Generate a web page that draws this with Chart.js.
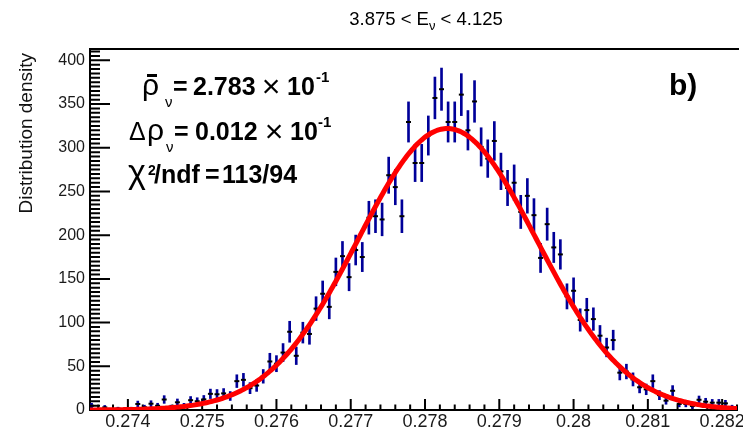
<!DOCTYPE html>
<html>
<head>
<meta charset="utf-8">
<script src="https://cdn.jsdelivr.net/npm/chart.js@4/dist/chart.umd.min.js"></script>
<style>
  html, body { margin: 0; padding: 0; background: #ffffff; }
  canvas { display: block; }
</style>
</head>
<body>
<canvas id="c" width="743" height="433"></canvas>
<script>
// Histogram binning: 225 bins on [0.27, 0.29]; the drawn bins start at bin 39.
const HIST_LOW = 0.27;
const BIN_WIDTH = 0.02 / 225;
const FIRST_BIN = 39;

// Distribution density of each bin (null = empty bin)
const density = [
  4.9, null, 3.0, null, 1.6, null, 1.6, 6.9, 3.2, 7.2,
  4.9, 12, 3.2, 8.8, 4.8, 11.2, 10, 12.2, 18.5, 18,
  19, 16, 33, 34.5, 25, 28, 38.5, 55.5, 53, 65.7,
  89.5, 62, 88.5, 87, 116, 133, 118, 158, 176, 152,
  183, 175, 220, 221.7, 218, 268.6, 255, 221.7, 329.5, 282.6,
  282.6, 314, 357, 367, 329.5, 329.5, 360.8, 320, 353, 301,
  287.6, 307.8, 273, 254, 260, 226.6, 245, 222.9, 174, 212.6,
  186, 178, 130, 136.4, 103, 114.3, 104, 85, 71.5, 80,
  42.7, 44, 35, 26, 23.6, 33, 17, 10.7, 22, 6.9,
  6.9, 4.6, 11.7, 9.5, 8.4, 8.4, 7.6, 3.2
];

// Statistical error of each bin
const densityErr = [
  2.8, null, 2.2, null, 1.6, null, 1.6, 3.3, 2.3, 3.4,
  2.8, 4.4, 2.3, 3.8, 2.8, 4.2, 4.0, 4.4, 5.4, 5.4,
  5.5, 5.1, 7.3, 7.4, 6.3, 6.7, 7.8, 9.4, 9.2, 10.3,
  12.0, 10.0, 11.9, 11.8, 13.6, 14.6, 13.7, 15.9, 16.8, 15.6,
  17.1, 16.7, 18.8, 18.8, 18.7, 20.7, 20.2, 18.8, 23.0, 21.3,
  21.3, 22.4, 23.9, 24.2, 23.0, 23.0, 24.0, 22.6, 23.8, 21.9,
  21.5, 22.2, 20.9, 20.2, 20.4, 19.0, 19.8, 18.9, 16.7, 18.4,
  17.3, 16.9, 14.4, 14.8, 12.8, 13.5, 12.9, 11.7, 10.7, 11.3,
  8.3, 8.4, 7.5, 6.4, 6.1, 7.3, 5.2, 4.1, 5.9, 3.3,
  3.3, 2.7, 4.3, 3.9, 3.7, 3.7, 3.5, 2.3
];

// Gaussian fit: mean and width as quoted in the legend, peak height of the fitted curve
const FIT_MEAN = 0.2783;
const FIT_SIGMA = 0.0012;
const FIT_PEAK = 322;

// Axis ranges and ticks
const X_MIN = 0.27349;
const X_MAX = 0.2822;
const Y_MIN = 0;
const Y_MAX = 413;
const X_MAJOR = 0.001, X_MINOR_DIV = 5;
const Y_MAJOR = 50, Y_MINOR_DIV = 10;

const TITLE_PARTS = ['3.875 < E', '\u03BD', ' < 4.125'];
const Y_TITLE = 'Distribution density';
const PANEL_TAG = 'b)';

const FONT = "'Liberation Sans', Arial, Helvetica, sans-serif";

// Build the chart tables from the arrays above
const binCenters = density.map((_, i) => HIST_LOW + (FIRST_BIN + i + 0.5) * BIN_WIDTH);
const markerPts = [];
const errorBars = [];
density.forEach((v, i) => {
  if (v === null) return;
  markerPts.push({ x: binCenters[i], y: v });
  errorBars.push({ x: binCenters[i], y: [Math.max(0, v - densityErr[i]), v + densityErr[i]] });
});

const fitPts = [];
const FIT_SAMPLES = 400;
for (let k = 0; k <= FIT_SAMPLES; k++) {
  const x = X_MIN + (X_MAX - X_MIN) * k / FIT_SAMPLES;
  const z = (x - FIT_MEAN) / FIT_SIGMA;
  fitPts.push({ x: x, y: FIT_PEAK * Math.exp(-0.5 * z * z) });
}

// Frame line on top and inward-pointing ticks on both axes
const framePlugin = {
  id: 'frameTicks',
  beforeDatasetsDraw(chart) {
    const { ctx, chartArea: a, scales: { x, y } } = chart;
    ctx.save();
    ctx.strokeStyle = '#000';
    ctx.lineWidth = 2;
    ctx.beginPath();
    ctx.moveTo(a.left - 1, a.top);
    ctx.lineTo(a.right + 2, a.top);
    ctx.stroke();

    ctx.lineWidth = 2;
    ctx.beginPath();
    const yStep = Y_MAJOR / Y_MINOR_DIV;
    for (let k = 0; k * yStep <= Y_MAX; k++) {
      const py = y.getPixelForValue(k * yStep);
      const len = (k % Y_MINOR_DIV === 0) ? 20 : 10;
      ctx.moveTo(a.left, py);
      ctx.lineTo(a.left + len, py);
    }
    const xStep = X_MAJOR / X_MINOR_DIV;
    const k0 = Math.ceil(X_MIN / xStep - 1e-6);
    const k1 = Math.floor(X_MAX / xStep + 1e-6);
    for (let k = k0; k <= k1; k++) {
      const px = x.getPixelForValue(k * xStep);
      const len = (k % X_MINOR_DIV === 0) ? 11 : 5.5;
      ctx.moveTo(px, a.bottom);
      ctx.lineTo(px, a.bottom - len);
    }
    ctx.stroke();
    ctx.restore();
  },
  afterDraw(chart) {
    const { ctx } = chart;
    ctx.save();
    ctx.fillStyle = '#000';
    ctx.textBaseline = 'alphabetic';
    ctx.textAlign = 'left';

    // Title with subscript
    const tMain = '18.5px ' + FONT, tSub = '13px ' + FONT;
    ctx.font = tMain;
    const w0 = ctx.measureText(TITLE_PARTS[0]).width;
    const w2 = ctx.measureText(TITLE_PARTS[2]).width;
    ctx.font = tSub;
    const w1 = ctx.measureText(TITLE_PARTS[1]).width;
    let tx = 426 - (w0 + w1 + w2) / 2;
    ctx.font = tMain; ctx.fillText(TITLE_PARTS[0], tx, 25); tx += w0;
    ctx.font = tSub; ctx.fillText(TITLE_PARTS[1], tx, 30); tx += w1;
    ctx.font = tMain; ctx.fillText(TITLE_PARTS[2], tx, 25);

    // Y axis title, aligned to the top of the axis
    ctx.save();
    ctx.translate(32, 53);
    ctx.rotate(-Math.PI / 2);
    ctx.textAlign = 'right';
    ctx.font = '19px ' + FONT;
    ctx.fillStyle = '#111';
    ctx.fillText(Y_TITLE, 0, 0);
    ctx.restore();

    // Fit summary: [text, font, x, baseline, align]
    const R = (s) => s + 'px ' + FONT;
    const B = (s) => 'bold ' + s + 'px ' + FONT;
    const rows = [
      [['\u03C1', R(30), 142, 95], ['\u03BD', R(15), 165, 107], ['=', B(25), 173, 95],
       ['2.783', B(25), 193, 95], ['\u00D7', R(32), 271, 97, 'center'], ['10', B(25), 287, 95], ['-1', B(15), 316, 82]],
      [['\u0394', R(25), 129, 140], ['\u03C1', R(30), 147, 140], ['\u03BD', R(15), 166, 152], ['=', B(25), 174, 140],
       ['0.012', B(25), 195, 140], ['\u00D7', R(32), 274, 142, 'center'], ['10', B(25), 290, 140], ['-1', B(15), 318, 127]],
      [['\u03C7', R(34), 128, 183], ['2', B(14), 148, 175], ['/ndf', B(25), 154, 183], ['=', B(25), 205, 183],
       ['113/94', B(25), 222, 183]]
    ];
    rows.forEach(row => row.forEach(([t, f, x, yb, al]) => {
      ctx.font = f;
      ctx.textAlign = al || 'left';
      ctx.fillText(t, x, yb);
    }));
    ctx.textAlign = 'left';
    // bar over the mean symbol
    ctx.fillRect(147, 74, 10, 3);

    ctx.font = B(30);
    ctx.fillText(PANEL_TAG, 669, 95);
    ctx.restore();
  }
};

new Chart(document.getElementById('c'), {
  type: 'bar',
  data: {
    datasets: [
      {
        type: 'line',
        data: fitPts,
        borderColor: '#ff0000',
        borderWidth: 5,
        pointRadius: 0,
        tension: 0,
        fill: false,
        order: 0
      },
      {
        type: 'scatter',
        data: markerPts,
        pointStyle: 'line',
        pointRadius: 2.5,
        pointBorderWidth: 2,
        pointBorderColor: '#000000',
        pointBackgroundColor: '#000000',
        order: 1
      },
      {
        type: 'bar',
        data: errorBars,
        backgroundColor: '#000099',
        borderWidth: 0,
        barThickness: 2,
        grouped: false,
        order: 2
      }
    ]
  },
  options: {
    responsive: false,
    animation: false,
    devicePixelRatio: 1,
    layout: { padding: { top: 49, right: 0, bottom: 0, left: 0 } },
    plugins: {
      legend: { display: false },
      tooltip: { enabled: false },
      title: { display: false }
    },
    events: [],
    scales: {
      x: {
        type: 'linear',
        min: X_MIN,
        max: X_MAX,
        offset: false,
        grid: { display: false, drawTicks: false },
        border: { display: true, color: '#000', width: 2 },
        ticks: {
          stepSize: X_MAJOR,
          includeBounds: false,
          autoSkip: false,
          maxRotation: 0,
          padding: 1,
          color: '#1a1a1a',
          font: { family: FONT, size: 18 },
          callback: (v) => String(parseFloat(Number(v).toFixed(3)))
        },
        afterFit: (s) => { s.height = 23; s.paddingLeft = 0; s.paddingRight = 0; }
      },
      y: {
        type: 'linear',
        min: Y_MIN,
        max: Y_MAX,
        grid: { display: false, drawTicks: false },
        border: { display: true, color: '#000', width: 2 },
        ticks: {
          stepSize: Y_MAJOR,
          includeBounds: false,
          padding: 5,
          color: '#1a1a1a',
          font: { family: FONT, size: 16 }
        },
        afterFit: (s) => { s.width = 90; }
      }
    }
  },
  plugins: [framePlugin]
});
</script>
</body>
</html>
